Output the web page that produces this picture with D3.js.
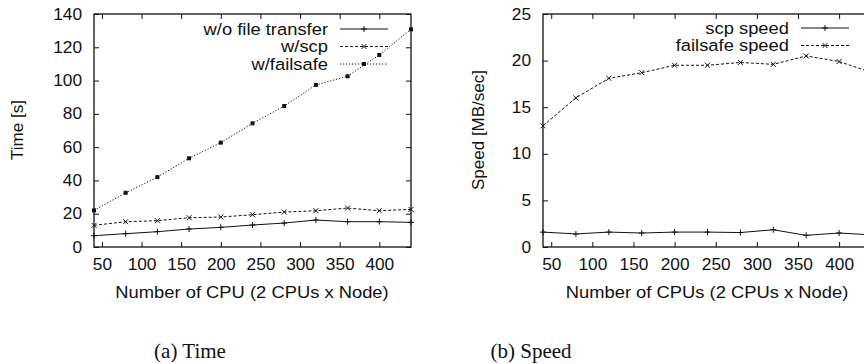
<!DOCTYPE html>
<html>
<head>
<meta charset="utf-8">
<script src="https://cdn.jsdelivr.net/npm/d3@7"></script>
<style>
  body { margin: 0; background: #fff; }
  svg { display: block; }
  .axis text { font-family: "Liberation Sans", Arial, sans-serif; font-size: 16px; fill: #111; }
  .axis line { stroke: #111; }
  .lbl { font-family: "Liberation Sans", Arial, sans-serif; font-size: 17px; fill: #111; }
  .cap { font-family: "Liberation Serif", "DejaVu Serif", serif; font-size: 21px; fill: #111; }
</style>
</head>
<body>
<svg id="canvas" width="864" height="364"></svg>
<script>
// data
var cpus = [40, 80, 120, 160, 200, 240, 280, 320, 360, 400, 440];
var xTicks = [50, 100, 150, 200, 250, 300, 350, 400];

var timeNoTransfer = [6.8, 8.0, 9.2, 10.8, 11.8, 13.2, 14.4, 16.2, 15.2, 15.2, 14.8];
var timeScp        = [13.0, 15.2, 15.8, 17.6, 18.0, 19.4, 21.0, 21.8, 23.4, 21.8, 22.6];
var timeFailsafe   = [22.0, 32.6, 42.0, 53.3, 62.7, 74.3, 84.7, 97.4, 102.6, 115.4, 130.8];
var timeTicks = [0, 20, 40, 60, 80, 100, 120, 140];

var speedScp      = [1.6, 1.4, 1.6, 1.5, 1.6, 1.6, 1.55, 1.85, 1.25, 1.5, 1.3];
var speedFailsafe = [13.0, 16.0, 18.1, 18.7, 19.5, 19.5, 19.8, 19.6, 20.5, 19.9, 18.7];
var speedTicks = [0, 5, 10, 15, 20, 25];

var svg = d3.select('#canvas');
var sx = 1.08;  // the source figure is a bit wider than tall

// ************************************************************************************************** //
// markers

function drawMarker(g, type, x, y){
  if(type == 'plus'){
    g.append('path').attr('d', 'M' +(x-3)+ ',' +y+ 'H' +(x+3)+ 'M' +x+ ',' +(y-3)+ 'V' +(y+3))
      .attr('stroke', '#111').attr('stroke-width', 1);
  } else if(type == 'cross'){
    g.append('path').attr('d', 'M' +(x-2.5)+ ',' +(y-2.5)+ 'L' +(x+2.5)+ ',' +(y+2.5)+ 'M' +(x-2.5)+ ',' +(y+2.5)+ 'L' +(x+2.5)+ ',' +(y-2.5))
      .attr('stroke', '#111').attr('stroke-width', 1);
  } else {
    g.append('rect').attr('x', x-2).attr('y', y-2).attr('width', 4).attr('height', 4).attr('fill', '#111');
  }
}

function label(g, cls, x, y, anchor, txt){
  return g.append('text').attr('class', cls).attr('transform', 'translate(' +x+ ',' +y+ ') scale(' +sx+ ',1)')
    .attr('dy', '0.35em').attr('text-anchor', anchor).text(txt);
}

var dashes = { solid: null, dashed: '3,2', dotted: '1.2,1.8' };

// ************************************************************************************************** //
// Panel

function Panel(opts){
  this.opts = opts;
  this.x = d3.scaleLinear().domain([40, 440]).range([opts.left, opts.right]);
  this.y = d3.scaleLinear().domain(opts.yDomain).range([opts.bottom, opts.top]);
  this.g = svg.append('g');
  this.draw();
}

Panel.prototype.draw = function(){
  var o = this.opts, x = this.x, y = this.y, g = this.g;

  var bottom = g.append('g').attr('class', 'axis').attr('transform', 'translate(0,' +o.bottom+ ')')
    .call(d3.axisBottom(x).tickValues(xTicks).tickSize(-5).tickPadding(12));
  bottom.selectAll('text').attr('dy', '0.71em').attr('transform', 'scale(' +sx+ ',1)');
  g.append('g').attr('class', 'axis').attr('transform', 'translate(0,' +o.top+ ')')
    .call(d3.axisTop(x).tickValues(xTicks).tickSize(-5).tickFormat(''));
  var left = g.append('g').attr('class', 'axis').attr('transform', 'translate(' +o.left+ ',0)')
    .call(d3.axisLeft(y).tickValues(o.yTicks).tickSize(-5).tickPadding(12));
  left.selectAll('text').attr('x', -12/sx).attr('transform', 'scale(' +sx+ ',1)');
  g.append('g').attr('class', 'axis').attr('transform', 'translate(' +o.right+ ',0)')
    .call(d3.axisRight(y).tickValues(o.yTicks).tickSize(-5).tickFormat(''));
  g.selectAll('.axis .domain').remove();

  g.append('rect').attr('x', o.left).attr('y', o.top).attr('width', o.right-o.left).attr('height', o.bottom-o.top)
    .attr('fill', 'none').attr('stroke', '#111').attr('stroke-width', 1.3);

  var line = d3.line().x(function(d){ return x(d[0]); }).y(function(d){ return y(d[1]); });

  o.series.forEach(function(s, k){
    var pts = cpus.map(function(c, i){ return [c, s.values[i]]; });
    g.append('path').attr('d', line(pts)).attr('fill', 'none').attr('stroke', '#111').attr('stroke-width', 1)
      .attr('stroke-dasharray', dashes[s.dash]);
    pts.forEach(function(p){ drawMarker(g, s.marker, x(p[0]), y(p[1])); });

    // legend entry
    var ly = o.legendY + k*o.legendStep;
    label(g, 'lbl', o.legendX, ly, 'end', s.name);
    g.append('line').attr('x1', o.legendX+12).attr('x2', o.legendX+60).attr('y1', ly).attr('y2', ly)
      .attr('stroke', '#111').attr('stroke-width', 1).attr('stroke-dasharray', dashes[s.dash]);
    drawMarker(g, s.marker, o.legendX+36, ly);
  });

  label(g, 'lbl', o.xTitleX, 292, 'middle', o.xTitle);
  g.append('text').attr('class', 'lbl').attr('transform', 'translate(' +o.yTitleX+ ',130) rotate(-90)')
    .attr('dy', '0.35em').attr('text-anchor', 'middle').text(o.yTitle);
  g.append('text').attr('class', 'cap').attr('x', o.capX).attr('y', 351).attr('dy', '0.35em')
    .attr('text-anchor', 'middle').text(o.caption);
}

new Panel({
  left: 94, right: 411, top: 14, bottom: 247,
  yDomain: [0, 140], yTicks: timeTicks,
  series: [
    { name: 'w/o file transfer', values: timeNoTransfer, dash: 'solid', marker: 'plus' },
    { name: 'w/scp', values: timeScp, dash: 'dashed', marker: 'cross' },
    { name: 'w/failsafe', values: timeFailsafe, dash: 'dotted', marker: 'box' }
  ],
  legendX: 328, legendY: 29, legendStep: 17.5,
  xTitle: 'Number of CPU (2 CPUs x Node)', xTitleX: 252,
  yTitle: 'Time [s]', yTitleX: 17,
  caption: '(a) Time', capX: 190
});

new Panel({
  left: 543, right: 872, top: 14, bottom: 247,
  yDomain: [0, 25], yTicks: speedTicks,
  series: [
    { name: 'scp speed', values: speedScp, dash: 'solid', marker: 'plus' },
    { name: 'failsafe speed', values: speedFailsafe, dash: 'dashed', marker: 'cross' }
  ],
  legendX: 789, legendY: 28, legendStep: 17.5,
  xTitle: 'Number of CPUs (2 CPUs x Node)', xTitleX: 707,
  yTitle: 'Speed [MB/sec]', yTitleX: 478,
  caption: '(b) Speed', capX: 531
});
</script>
</body>
</html>
